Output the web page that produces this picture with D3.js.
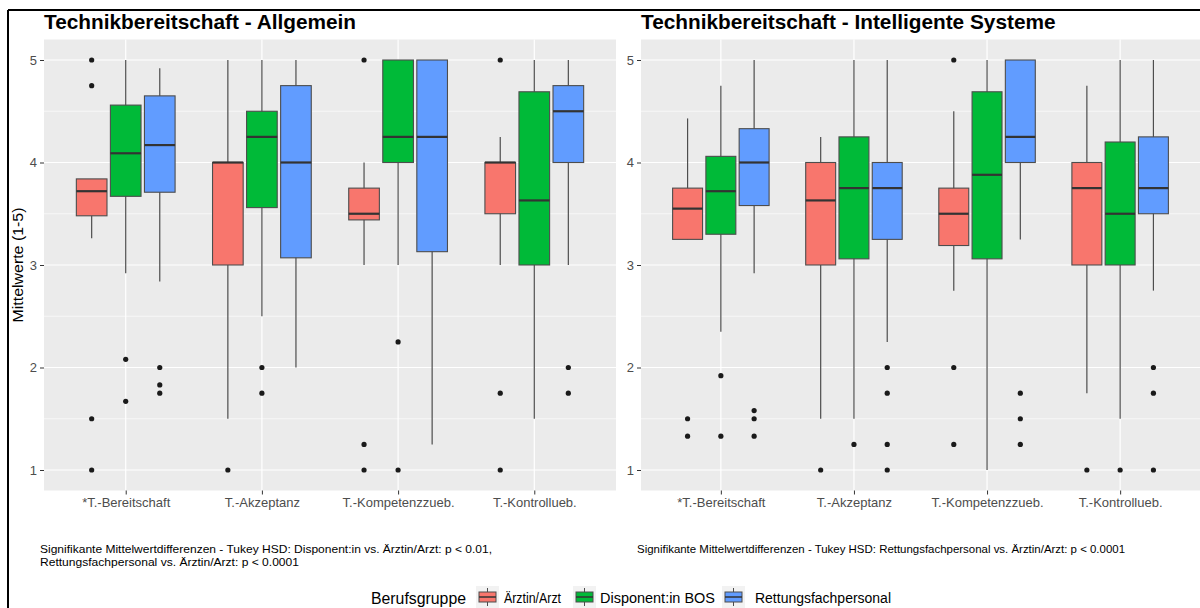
<!DOCTYPE html>
<html>
<head>
<meta charset="UTF-8">
<script src="https://d3js.org/d3.v7.min.js"></script>
<style>
  body { margin: 0; background: #fff; }
  text { font-family: "Liberation Sans", Arial, sans-serif; }
</style>
</head>
<body>
<svg id="canvas"></svg>
<script>
// categories and groups
const categories = ["*T.-Bereitschaft", "T.-Akzeptanz", "T.-Kompetenzzueb.", "T.-Kontrollueb."];
const groups = ["Ärztin/Arzt", "Disponent:in BOS", "Rettungsfachpersonal"];
const colors = ["#F8766D", "#00BA38", "#619CFF"];
const yTicks = [1, 2, 3, 4, 5];

// [lower whisker, q1, median, q3, upper whisker] per category, per group
const allgemeinStats = [
  [[3.26, 3.48, 3.72, 3.84, 3.84], [2.92, 3.67, 4.09, 4.56, 5], [2.84, 3.71, 4.17, 4.65, 4.92]],
  [[1.5, 3, 4, 4, 5], [2.5, 3.56, 4.25, 4.5, 5], [2, 3.07, 4, 4.75, 5]],
  [[3, 3.44, 3.5, 3.75, 4], [3, 4, 4.25, 5, 5], [1.25, 3.13, 4.25, 5, 5]],
  [[3, 3.5, 4, 4, 4.25], [1.5, 3, 3.63, 4.69, 5], [3, 4, 4.5, 4.75, 5]]
];
const allgemeinOutliers = [
  [[5, 4.75, 1.5, 1], [2.08, 1.67], [2, 1.83, 1.75]],
  [[1], [2, 1.75], []],
  [[5, 1.25, 1], [2.25, 1], []],
  [[5, 1.75, 1], [], [2, 1.75]]
];

const intelligentStats = [
  [[3.25, 3.25, 3.55, 3.75, 4.43], [2.35, 3.3, 3.72, 4.06, 4.75], [2.92, 3.58, 4.0, 4.33, 5]],
  [[1.5, 3, 3.63, 4, 4.25], [1.5, 3.06, 3.75, 4.25, 5], [2.25, 3.25, 3.75, 4, 5]],
  [[2.75, 3.19, 3.5, 3.75, 4.5], [1, 3.06, 3.88, 4.69, 5], [3.25, 4, 4.25, 5, 5]],
  [[1.75, 3, 3.75, 4, 4.75], [1.5, 3, 3.5, 4.2, 5], [2.75, 3.5, 3.75, 4.25, 5]]
];
const intelligentOutliers = [
  [[1.5, 1.33], [1.92, 1.33], [1.58, 1.5, 1.33]],
  [[1], [1.25], [2, 1.75, 1.25, 1]],
  [[5, 2, 1.25], [], [1.75, 1.5, 1.25]],
  [[1], [1], [2, 1.75, 1]]
];

width = 1200;
height = 608;
plotTop = 39.5;
plotBottom = 490.5;

svg = d3.select("#canvas").attr("width", width).attr("height", height);

y = d3.scaleLinear().domain([0.8, 5.2]).range([plotBottom, plotTop]);

function drawPanel(x0, x1, title, stats, outliers, caption, capWidths) {
  const g = svg.append("g");
  const x = d3.scalePoint().domain(categories).range([x0, x1]).padding(0.6);
  const step = x.step();
  const dodge = d3.scaleBand().domain(groups).range([-0.375 * step, 0.375 * step]);
  const bw = dodge.bandwidth() * 0.9;

  // panel background + grid
  g.append("rect").attr("x", x0).attr("y", plotTop).attr("width", x1 - x0)
    .attr("height", plotBottom - plotTop).attr("fill", "#EBEBEB");
  const minor = [1.5, 2.5, 3.5, 4.5];
  g.selectAll(".minor").data(minor).enter().append("line")
    .attr("x1", x0).attr("x2", x1).attr("y1", d => y(d)).attr("y2", d => y(d))
    .attr("stroke", "#fff").attr("stroke-width", 0.6);
  g.selectAll(".major").data(yTicks).enter().append("line")
    .attr("x1", x0).attr("x2", x1).attr("y1", d => y(d)).attr("y2", d => y(d))
    .attr("stroke", "#fff").attr("stroke-width", 1.2);
  g.selectAll(".vmajor").data(categories).enter().append("line")
    .attr("x1", d => x(d)).attr("x2", d => x(d)).attr("y1", plotTop).attr("y2", plotBottom)
    .attr("stroke", "#fff").attr("stroke-width", 1.2);

  // axes
  const yAxis = g.append("g").attr("transform", "translate(" + x0 + ",0)")
    .call(d3.axisLeft(y).tickValues(yTicks).tickSize(4).tickPadding(3).tickFormat(d3.format("d")));
  const xAxis = g.append("g").attr("transform", "translate(0," + plotBottom + ")")
    .call(d3.axisBottom(x).tickSize(4).tickPadding(3));
  [yAxis, xAxis].forEach(a => {
    a.select(".domain").remove();
    a.selectAll(".tick line").attr("stroke", "#333").attr("stroke-width", 1);
    a.selectAll(".tick text").attr("fill", "#4D4D4D").style("font-size", "13px")
      .style("font-family", "'Liberation Sans', Arial, sans-serif");
  });

  // boxes
  categories.forEach((c, ci) => {
    groups.forEach((grp, gi) => {
      const s = stats[ci][gi];
      const cx = x(c) + dodge(grp) + dodge.bandwidth() / 2;
      g.append("line").attr("x1", cx).attr("x2", cx).attr("y1", y(s[0])).attr("y2", y(s[4]))
        .attr("stroke", "#4D4D4D").attr("stroke-width", 1.2);
      g.append("rect").attr("x", cx - bw / 2).attr("width", bw)
        .attr("y", y(s[3])).attr("height", y(s[1]) - y(s[3]))
        .attr("fill", colors[gi]).attr("stroke", "#4D4D4D").attr("stroke-width", 1.1);
      g.append("line").attr("x1", cx - bw / 2).attr("x2", cx + bw / 2)
        .attr("y1", y(s[2])).attr("y2", y(s[2]))
        .attr("stroke", "#333").attr("stroke-width", 2.2);
      g.selectAll(null).data(outliers[ci][gi]).enter().append("circle")
        .attr("cx", cx).attr("cy", d => y(d)).attr("r", 2.6).attr("fill", "#1A1A1A");
    });
  });

  // title
  g.append("text").attr("x", x0).attr("y", 29).text(title)
    .style("font-size", "20.8px").style("font-weight", "bold").attr("fill", "#000");

  // caption
  caption.forEach((line, i) => {
    g.append("text").attr("x", x0 - 4).attr("y", 553 + i * 13)
      .attr("textLength", capWidths[i]).attr("lengthAdjust", "spacingAndGlyphs")
      .style("font-size", "10.5px").attr("fill", "#000").text(line);
  });
}

drawPanel(44, 616, "Technikbereitschaft - Allgemein", allgemeinStats, allgemeinOutliers,
  ["Signifikante Mittelwertdifferenzen - Tukey HSD: Disponent:in vs. Ärztin/Arzt: p < 0.01,",
   "Rettungsfachpersonal vs. Ärztin/Arzt: p < 0.0001"], [452, 259]);
drawPanel(641, 1200, "Technikbereitschaft - Intelligente Systeme", intelligentStats, intelligentOutliers,
  ["Signifikante Mittelwertdifferenzen - Tukey HSD: Rettungsfachpersonal vs. Ärztin/Arzt: p < 0.0001"], [488]);

// y label
svg.append("text").attr("transform", "translate(23,265) rotate(-90)")
  .attr("text-anchor", "middle").style("font-size", "14.5px").attr("fill", "#000")
  .attr("textLength", 115).attr("lengthAdjust", "spacingAndGlyphs")
  .text("Mittelwerte (1-5)");

// legend
const legend = svg.append("g");
legend.append("text").attr("x", 371).attr("y", 604).style("font-size", "16px")
  .attr("textLength", 95).attr("lengthAdjust", "spacingAndGlyphs").text("Berufsgruppe");
const keyX = [476, 573, 722];
const labelX = [504, 600, 755];
const labelW = [57, 115, 136];
groups.forEach((grp, i) => {
  const k = legend.append("g").attr("transform", "translate(" + keyX[i] + ",586)");
  k.append("rect").attr("width", 23).attr("height", 22).attr("fill", "#F2F2F2");
  k.append("line").attr("x1", 11.5).attr("x2", 11.5).attr("y1", 2).attr("y2", 20)
    .attr("stroke", "#4D4D4D").attr("stroke-width", 1);
  k.append("rect").attr("x", 3).attr("y", 6).attr("width", 17).attr("height", 10)
    .attr("fill", colors[i]).attr("stroke", "#4D4D4D").attr("stroke-width", 1);
  k.append("line").attr("x1", 3).attr("x2", 20).attr("y1", 11).attr("y2", 11)
    .attr("stroke", "#333").attr("stroke-width", 1.5);
  legend.append("text").attr("x", labelX[i]).attr("y", 603).style("font-size", "14px")
    .attr("textLength", labelW[i]).attr("lengthAdjust", "spacingAndGlyphs").text(grp);
});

// frame
svg.append("line").attr("x1", 8).attr("x2", 1200).attr("y1", 10).attr("y2", 10)
  .attr("stroke", "#000").attr("stroke-width", 2);
svg.append("line").attr("x1", 8).attr("x2", 8).attr("y1", 10).attr("y2", 608)
  .attr("stroke", "#000").attr("stroke-width", 2);
</script>
</body>
</html>
